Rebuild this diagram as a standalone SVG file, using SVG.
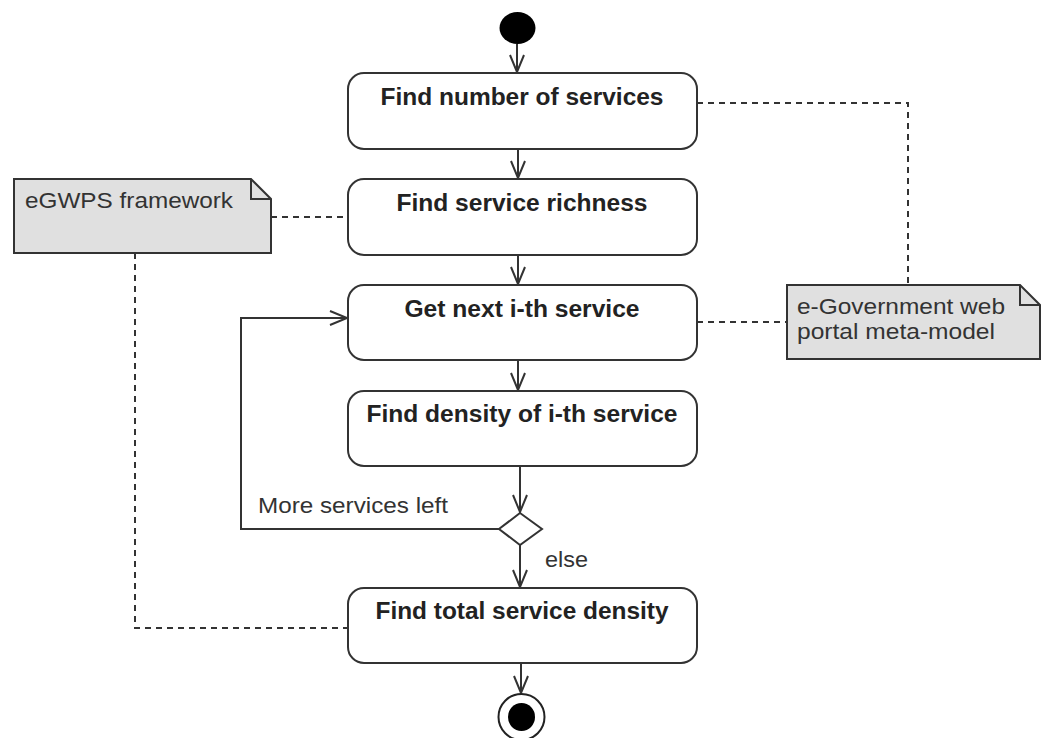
<svg xmlns="http://www.w3.org/2000/svg" width="1042" height="738" viewBox="0 0 1042 738">
<defs>
<style>
.act{fill:#fff;stroke:#333;stroke-width:2}
.lbl{font-family:"Liberation Sans",Arial,sans-serif;font-size:23px;font-weight:bold;fill:#222;text-anchor:middle}
.note{fill:#e0e0e0;stroke:#333;stroke-width:2}
.ntxt{font-family:"Liberation Sans",Arial,sans-serif;font-size:22px;fill:#333}
.flow{fill:none;stroke:#333;stroke-width:2}
.dash{fill:none;stroke:#333;stroke-width:2;stroke-dasharray:6 5}
</style>
<marker id="arr" markerUnits="userSpaceOnUse" markerWidth="20" markerHeight="16" refX="18" refY="8" orient="auto">
<path d="M1,1 L18,8 L1,15" fill="none" stroke="#333" stroke-width="2"/>
</marker>
</defs>
<g id="connectors">
<line class="flow" x1="517" y1="44" x2="517" y2="72" marker-end="url(#arr)"/>
<line class="flow" x1="518" y1="149" x2="518" y2="178" marker-end="url(#arr)"/>
<line class="flow" x1="518" y1="255" x2="518" y2="284" marker-end="url(#arr)"/>
<line class="flow" x1="518" y1="360" x2="518" y2="390" marker-end="url(#arr)"/>
<line class="flow" x1="520" y1="466" x2="520" y2="512" marker-end="url(#arr)"/>
<polyline class="flow" points="499,529 241,529 241,318 347,318" marker-end="url(#arr)"/>
<line class="flow" x1="520" y1="545" x2="520" y2="587" marker-end="url(#arr)"/>
<line class="flow" x1="521" y1="663" x2="521" y2="693" marker-end="url(#arr)"/>
<polyline class="dash" points="697,103 908,103 908,285"/>
<line class="dash" x1="697" y1="322" x2="787" y2="322"/>
<line class="dash" x1="271" y1="217" x2="348" y2="217"/>
<polyline class="dash" points="135,253 135,628 348,628"/>
<text class="ntxt" x="258" y="513" textLength="190" lengthAdjust="spacingAndGlyphs">More services left</text>
<text class="ntxt" x="545" y="567" textLength="43" lengthAdjust="spacingAndGlyphs">else</text>
</g>
<g id="start"><ellipse cx="517.5" cy="28" rx="18" ry="16" fill="#000"/></g>
<g id="a1"><rect class="act" x="348" y="73" width="349" height="76" rx="16"/><text class="lbl" x="522" y="105" textLength="283" lengthAdjust="spacingAndGlyphs">Find number of services</text></g>
<g id="a2"><rect class="act" x="348" y="179" width="349" height="76" rx="16"/><text class="lbl" x="522" y="211" textLength="251" lengthAdjust="spacingAndGlyphs">Find service richness</text></g>
<g id="a3"><rect class="act" x="348" y="285" width="349" height="75" rx="16"/><text class="lbl" x="522" y="317" textLength="235" lengthAdjust="spacingAndGlyphs">Get next i-th service</text></g>
<g id="a4"><rect class="act" x="348" y="391" width="349" height="75" rx="16"/><text class="lbl" x="522" y="422" textLength="311" lengthAdjust="spacingAndGlyphs">Find density of i-th service</text></g>
<g id="decision"><polygon points="520,513 542,529 520,545 499,529" fill="#fff" stroke="#333" stroke-width="2"/></g>
<g id="a5"><rect class="act" x="348" y="588" width="349" height="75" rx="16"/><text class="lbl" x="522" y="619" textLength="293" lengthAdjust="spacingAndGlyphs">Find total service density</text></g>
<g id="end"><ellipse cx="521.5" cy="717" rx="23" ry="23" fill="#fff" stroke="#222" stroke-width="2"/><ellipse cx="521.5" cy="717" rx="13.5" ry="14" fill="#000"/></g>
<g id="note1">
<path class="note" d="M14,179 H251 L271,199 V253 H14 Z"/>
<path d="M251,179 V199 H271" fill="none" stroke="#333" stroke-width="2"/>
<text class="ntxt" x="25" y="208" textLength="208" lengthAdjust="spacingAndGlyphs">eGWPS framework</text>
</g>
<g id="note2">
<path class="note" d="M787,285 H1020 L1040,305 V359 H787 Z"/>
<path d="M1020,285 V305 H1040" fill="none" stroke="#333" stroke-width="2"/>
<text class="ntxt" x="797" y="314" textLength="208" lengthAdjust="spacingAndGlyphs">e-Government web</text>
<text class="ntxt" x="797" y="339" textLength="198" lengthAdjust="spacingAndGlyphs">portal meta-model</text>
</g>
</svg>
